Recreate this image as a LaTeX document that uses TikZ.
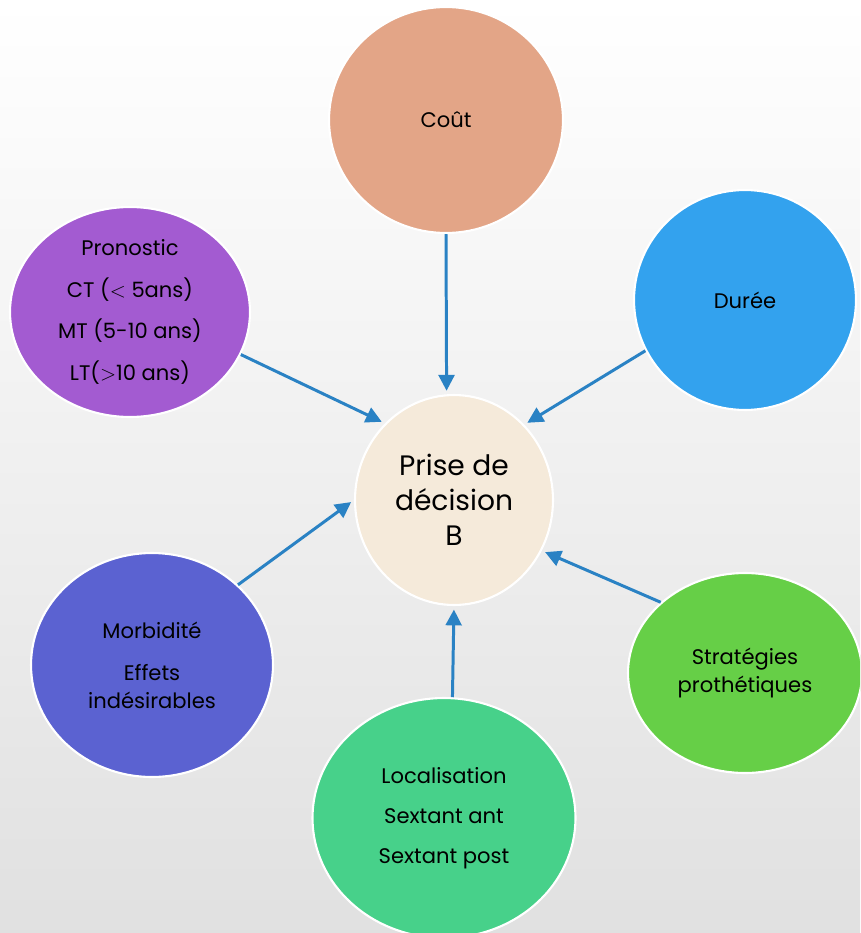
\documentclass[tikz,border=0pt]{standalone}
\usepackage{fontspec}
\setmainfont{Poppins}
\usepackage{tikz}
\usetikzlibrary{arrows.meta,shapes.geometric}
\usepackage{xcolor}
\definecolor{coutfill}{HTML}{E3A587}
\definecolor{dureefill}{HTML}{33A2EE}
\definecolor{pronofill}{HTML}{A35BD1}
\definecolor{morbifill}{HTML}{5B62D1}
\definecolor{locfill}{HTML}{47D18A}
\definecolor{stratfill}{HTML}{66CF47}
\definecolor{decfill}{HTML}{F5EADA}
\definecolor{linkblue}{HTML}{2A82C4}

\begin{document}
\begin{tikzpicture}[x=0.02cm,y=-0.02cm,
  bubble/.style={draw=white,line width=1.2pt,ellipse,inner sep=0pt,align=center},
  link/.style={draw=linkblue,line width=1.7pt,-{Triangle[length=9pt,width=9pt]},shorten >=2pt}]
  \useasboundingbox (0,0) rectangle (860,933);
  \clip (0,0) rectangle (860,933);
  \shade[top color=white,bottom color=black!12] (0,0) rectangle (860,933);

  \node[bubble,fill=decfill,minimum width=3.96cm,minimum height=4.2cm,font=\fontsize{16}{20}\selectfont] (dec) at (454,500) {Prise de\\décision\\B};
  \node[bubble,fill=coutfill,minimum width=4.68cm,minimum height=4.52cm,font=\fontsize{12}{16}\selectfont] (cout) at (446,120) {Coût};
  \node[bubble,fill=dureefill,minimum width=4.44cm,minimum height=4.4cm,font=\fontsize{12}{16}\selectfont] (duree) at (745,300) {Durée};
  \node[bubble,fill=pronofill,minimum width=4.8cm,minimum height=4.2cm,font=\fontsize{12}{23.8}\selectfont] (prono) at (130,312) {Pronostic\\CT ($<$ 5ans)\\MT (5-10 ans)\\LT($>$10 ans)};
  \node[bubble,fill=morbifill,minimum width=4.84cm,minimum height=4.48cm,font=\fontsize{12}{16}\selectfont] (morbi) at (152,665) {Morbidité\\[8pt]Effets\\indésirables};
  \node[bubble,fill=locfill,minimum width=5.26cm,minimum height=4.8cm,font=\fontsize{12}{22.7}\selectfont] (loc) at (444,818) {Localisation\\Sextant ant\\Sextant post};
  \node[bubble,fill=stratfill,minimum width=4.68cm,minimum height=4cm,font=\fontsize{12}{16.4}\selectfont] (strat) at (745,673) {Stratégies\\prothétiques};

  % arrows into the decision
  \draw[link] (cout.270) -- (dec.94);
  \draw[link] (duree.207) -- (dec.47);
  \draw[link] (prono.-21) -- (dec.132);
  \draw[link] (morbi.43) -- (dec.180);
  \draw[link] (loc.86) -- (dec.270);
  \draw[link] (strat.140) -- (dec.-30);
\end{tikzpicture}
\end{document}
